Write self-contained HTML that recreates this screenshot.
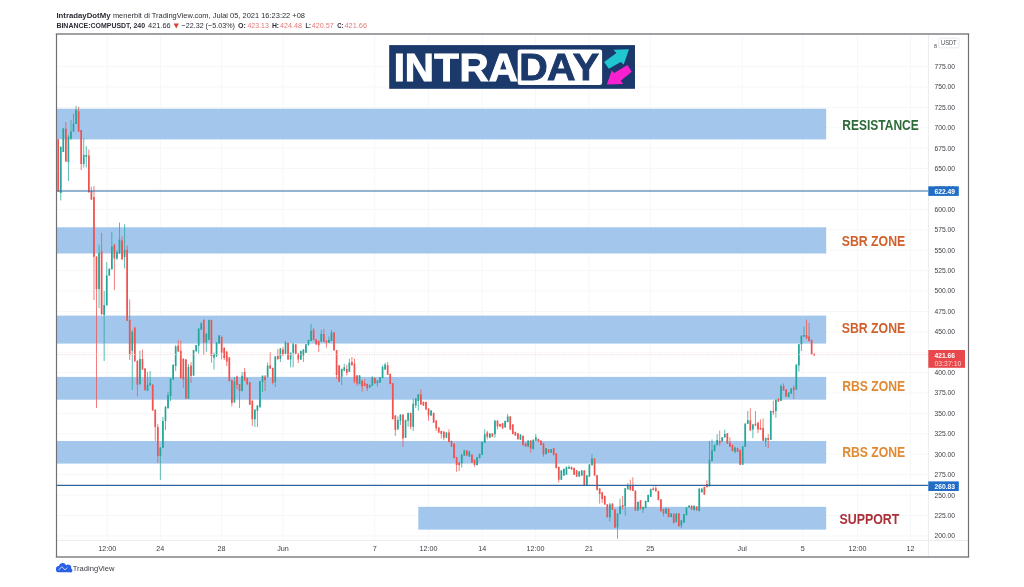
<!DOCTYPE html>
<html lang="ms"><head><meta charset="utf-8"><title>COMPUSDT - IntradayDotMy</title>
<style>html,body{margin:0;padding:0;background:#fff}body{width:1024px;height:587px;overflow:hidden}svg{display:block}text{font-family:"Liberation Sans",sans-serif}</style></head><body>
<svg width="1024" height="587" viewBox="0 0 1024 587">
<defs><filter id="cb" x="0" y="0" width="1024" height="587" filterUnits="userSpaceOnUse"><feGaussianBlur stdDeviation="0.45"/></filter></defs>
<rect width="1024" height="587" fill="#fff"/>
<g stroke="#f6f7f9" stroke-width="1">
<line x1="57" x2="928" y1="535.9" y2="535.9"/>
<line x1="57" x2="928" y1="515.5" y2="515.5"/>
<line x1="57" x2="928" y1="495.1" y2="495.1"/>
<line x1="57" x2="928" y1="474.6" y2="474.6"/>
<line x1="57" x2="928" y1="454.2" y2="454.2"/>
<line x1="57" x2="928" y1="433.8" y2="433.8"/>
<line x1="57" x2="928" y1="413.4" y2="413.4"/>
<line x1="57" x2="928" y1="393.0" y2="393.0"/>
<line x1="57" x2="928" y1="372.6" y2="372.6"/>
<line x1="57" x2="928" y1="352.2" y2="352.2"/>
<line x1="57" x2="928" y1="331.8" y2="331.8"/>
<line x1="57" x2="928" y1="311.4" y2="311.4"/>
<line x1="57" x2="928" y1="291.0" y2="291.0"/>
<line x1="57" x2="928" y1="270.6" y2="270.6"/>
<line x1="57" x2="928" y1="250.2" y2="250.2"/>
<line x1="57" x2="928" y1="229.8" y2="229.8"/>
<line x1="57" x2="928" y1="209.4" y2="209.4"/>
<line x1="57" x2="928" y1="189.0" y2="189.0"/>
<line x1="57" x2="928" y1="168.6" y2="168.6"/>
<line x1="57" x2="928" y1="148.2" y2="148.2"/>
<line x1="57" x2="928" y1="127.8" y2="127.8"/>
<line x1="57" x2="928" y1="107.4" y2="107.4"/>
<line x1="57" x2="928" y1="87.0" y2="87.0"/>
<line x1="57" x2="928" y1="66.6" y2="66.6"/>
<line x1="107.2" x2="107.2" y1="34" y2="540"/>
<line x1="160.3" x2="160.3" y1="34" y2="540"/>
<line x1="221.6" x2="221.6" y1="34" y2="540"/>
<line x1="283.0" x2="283.0" y1="34" y2="540"/>
<line x1="374.7" x2="374.7" y1="34" y2="540"/>
<line x1="428.4" x2="428.4" y1="34" y2="540"/>
<line x1="482.2" x2="482.2" y1="34" y2="540"/>
<line x1="535.6" x2="535.6" y1="34" y2="540"/>
<line x1="589.0" x2="589.0" y1="34" y2="540"/>
<line x1="650.3" x2="650.3" y1="34" y2="540"/>
<line x1="742.2" x2="742.2" y1="34" y2="540"/>
<line x1="802.8" x2="802.8" y1="34" y2="540"/>
<line x1="857.5" x2="857.5" y1="34" y2="540"/>
<line x1="910.5" x2="910.5" y1="34" y2="540"/>
</g>
<rect x="57" y="108.7" width="769.2" height="30.7" fill="#a3c7ec"/>
<rect x="57" y="227.3" width="769.2" height="26.2" fill="#a3c7ec"/>
<rect x="57" y="315.6" width="769.2" height="28.0" fill="#a3c7ec"/>
<rect x="57" y="376.9" width="769.2" height="22.8" fill="#a3c7ec"/>
<rect x="57" y="441.0" width="769.2" height="22.6" fill="#a3c7ec"/>
<rect x="418.3" y="506.8" width="407.9" height="22.8" fill="#a3c7ec"/>
<g filter="url(#cb)"><path d="M60.75 146.0V200.5M63.31 128.0V152.0M68.42 135.0V181.0M70.97 119.8V140.0M73.52 113.7V132.0M76.08 105.8V124.0M83.74 138.5V167.5M86.29 146.0V167.5M99.06 244.7V308.0M104.17 291.0V361.0M106.73 262.0V306.0M109.28 268.0V276.0M111.83 232.0V270.0M116.94 250.0V260.0M119.50 222.6V254.0M124.60 224.3V268.6M132.27 330.0V390.0M139.93 350.7V385.0M147.59 372.0V391.0M150.14 371.0V386.0M160.36 447.0V480.0M162.91 417.0V448.0M165.47 406.0V430.0M168.02 392.0V409.0M170.58 378.0V401.0M173.13 364.0V380.0M175.68 345.0V371.0M188.45 364.0V399.0M193.56 350.0V376.0M196.12 345.0V352.0M198.67 328.0V353.5M201.22 322.0V330.0M206.33 333.0V351.7M208.89 319.5V340.0M213.99 352.6V369.6M216.55 342.0V357.0M219.10 335.0V344.0M234.43 377.0V403.0M242.09 371.9V391.5M254.86 409.0V427.0M257.41 405.0V427.0M259.97 381.0V407.5M262.52 375.5V392.0M267.63 362.5V377.5M275.29 356.0V387.0M280.40 348.0V362.0M285.51 341.0V354.0M290.61 352.5V367.3M293.17 342.6V367.3M300.83 350.5V360.0M303.38 349.0V362.0M305.94 344.0V353.0M308.49 339.5V345.5M311.05 323.9V341.0M321.26 329.8V342.0M328.92 336.6V343.0M331.48 329.8V341.0M341.69 368.5V385.0M344.25 363.9V371.0M349.36 358.7V372.0M359.57 375.0V384.5M369.79 384.5V388.0M372.34 376.4V386.0M377.45 380.0V386.6M380.00 377.0V383.0M382.56 365.3V378.5M385.11 362.8V370.0M397.88 416.4V430.0M400.44 414.0V425.0M405.54 419.5V438.0M408.10 412.5V426.7M413.21 398.6V431.0M415.76 398.0V408.0M418.31 394.0V410.5M431.08 410.0V416.0M446.41 432.0V438.0M461.73 454.0V467.5M464.29 449.6V456.0M469.39 451.0V457.0M477.06 457.0V465.5M479.61 453.5V458.5M482.16 441.5V455.0M484.72 429.2V443.0M489.83 433.0V438.0M494.93 420.0V437.7M505.15 420.5V428.0M507.70 414.0V422.5M520.47 434.0V440.0M528.14 440.0V447.0M533.24 439.5V449.5M535.80 433.9V441.0M546.01 448.0V454.5M551.12 449.0V453.0M561.34 470.0V480.0M563.89 468.5V476.0M566.45 466.5V475.0M569.00 465.4V469.0M579.22 471.0V477.0M581.77 470.0V476.0M586.88 475.0V486.0M589.43 464.0V477.0M591.99 454.3V465.5M609.86 502.8V521.6M617.53 513.0V538.6M620.08 498.6V514.5M625.19 488.0V515.6M627.74 483.2V489.5M637.96 501.5V511.0M643.07 506.5V513.0M645.62 500.5V508.5M648.17 494.5V502.5M650.73 488.5V497.0M666.05 508.0V514.0M671.16 513.0V517.5M676.27 513.0V522.5M681.38 520.0V528.0M683.93 514.0V523.0M686.48 507.0V515.5M689.04 505.0V508.0M694.15 505.3V510.5M699.25 488.0V511.5M701.81 488.0V492.5M709.47 441.0V486.5M712.02 439.4V461.5M714.58 444.5V451.5M717.13 434.0V445.5M722.24 437.0V442.0M724.79 429.6V438.0M735.01 446.7V453.5M742.67 446.0V465.0M745.23 423.0V447.0M747.78 410.9V424.0M752.89 424.0V438.0M765.66 437.5V446.7M770.77 410.5V440.0M775.87 399.5V417.7M780.98 384.3V401.0M788.64 392.0V397.5M791.20 388.0V394.0M796.31 364.0V390.0M798.86 344.0V371.6M801.41 335.5V351.0M803.97 326.4V337.0" stroke="#26a69a" stroke-width="0.75" fill="none"/><path d="M59.90 147.0h1.7V193.0h-1.7zM62.46 128.5h1.7V152.0h-1.7zM67.57 137.0h1.7V162.0h-1.7zM70.12 131.4h1.7V138.5h-1.7zM72.67 123.6h1.7V131.4h-1.7zM75.23 109.9h1.7V123.9h-1.7zM82.89 154.7h1.7V164.0h-1.7zM85.44 155.0h1.7V157.0h-1.7zM98.21 253.0h1.7V289.0h-1.7zM103.32 305.0h1.7V315.0h-1.7zM105.88 275.5h1.7V305.0h-1.7zM108.43 269.0h1.7V275.5h-1.7zM110.98 246.4h1.7V269.0h-1.7zM116.09 252.0h1.7V258.4h-1.7zM118.65 239.6h1.7V253.3h-1.7zM123.75 250.0h1.7V257.0h-1.7zM131.42 332.0h1.7V350.7h-1.7zM139.08 359.0h1.7V384.0h-1.7zM146.74 384.7h1.7V390.7h-1.7zM149.29 383.0h1.7V385.0h-1.7zM159.51 447.7h1.7V456.0h-1.7zM162.06 421.0h1.7V447.7h-1.7zM164.62 407.0h1.7V421.0h-1.7zM167.17 395.0h1.7V408.0h-1.7zM169.73 378.8h1.7V396.0h-1.7zM172.28 365.0h1.7V379.6h-1.7zM174.83 346.4h1.7V366.0h-1.7zM187.60 367.0h1.7V398.6h-1.7zM192.71 350.0h1.7V375.6h-1.7zM195.27 345.0h1.7V351.0h-1.7zM197.82 328.7h1.7V345.8h-1.7zM200.37 323.6h1.7V329.6h-1.7zM205.48 333.8h1.7V342.4h-1.7zM208.04 320.0h1.7V339.8h-1.7zM213.14 354.3h1.7V357.7h-1.7zM215.70 342.4h1.7V356.0h-1.7zM218.25 335.5h1.7V343.2h-1.7zM233.58 381.6h1.7V402.2h-1.7zM241.24 375.7h1.7V391.0h-1.7zM254.01 409.8h1.7V419.2h-1.7zM256.56 405.6h1.7V410.7h-1.7zM259.12 381.2h1.7V407.2h-1.7zM261.67 375.7h1.7V382.0h-1.7zM266.78 365.5h1.7V377.0h-1.7zM274.44 356.5h1.7V382.0h-1.7zM279.55 348.5h1.7V358.7h-1.7zM284.66 342.6h1.7V353.7h-1.7zM289.76 352.8h1.7V359.6h-1.7zM292.32 344.3h1.7V352.8h-1.7zM299.98 351.0h1.7V359.6h-1.7zM302.53 349.4h1.7V355.4h-1.7zM305.09 344.3h1.7V352.8h-1.7zM307.64 340.0h1.7V345.1h-1.7zM310.20 330.7h1.7V340.9h-1.7zM320.41 334.0h1.7V341.7h-1.7zM328.07 340.0h1.7V342.6h-1.7zM330.63 332.4h1.7V340.9h-1.7zM340.84 369.0h1.7V376.7h-1.7zM343.40 367.3h1.7V370.7h-1.7zM348.51 362.8h1.7V371.8h-1.7zM358.72 375.5h1.7V384.0h-1.7zM368.94 385.0h1.7V387.5h-1.7zM371.49 377.3h1.7V385.8h-1.7zM376.60 380.7h1.7V383.2h-1.7zM379.15 377.3h1.7V382.4h-1.7zM381.71 367.0h1.7V378.0h-1.7zM384.26 364.5h1.7V369.6h-1.7zM397.03 419.9h1.7V429.2h-1.7zM399.59 414.7h1.7V420.7h-1.7zM404.69 419.9h1.7V437.7h-1.7zM407.25 413.0h1.7V420.7h-1.7zM412.36 403.7h1.7V426.7h-1.7zM414.91 398.6h1.7V405.4h-1.7zM417.46 394.3h1.7V401.0h-1.7zM430.23 410.4h1.7V415.5h-1.7zM445.56 432.6h1.7V437.7h-1.7zM460.88 454.7h1.7V463.3h-1.7zM463.44 450.5h1.7V455.6h-1.7zM468.54 451.3h1.7V456.4h-1.7zM476.21 457.3h1.7V465.0h-1.7zM478.76 453.9h1.7V458.0h-1.7zM481.31 442.0h1.7V454.7h-1.7zM483.87 434.3h1.7V442.8h-1.7zM488.98 433.4h1.7V437.7h-1.7zM494.08 420.7h1.7V434.3h-1.7zM504.30 421.0h1.7V427.3h-1.7zM506.85 416.6h1.7V422.0h-1.7zM519.62 434.7h1.7V439.8h-1.7zM527.29 440.7h1.7V446.6h-1.7zM532.39 439.8h1.7V449.2h-1.7zM534.95 437.3h1.7V440.7h-1.7zM545.16 448.3h1.7V454.3h-1.7zM550.27 449.2h1.7V452.6h-1.7zM560.49 470.5h1.7V479.8h-1.7zM563.04 468.8h1.7V475.6h-1.7zM565.60 467.0h1.7V474.7h-1.7zM568.15 467.0h1.7V468.8h-1.7zM578.37 471.5h1.7V476.4h-1.7zM580.92 470.4h1.7V475.6h-1.7zM586.03 475.6h1.7V485.8h-1.7zM588.58 464.5h1.7V476.4h-1.7zM591.14 458.5h1.7V465.3h-1.7zM609.01 504.5h1.7V517.3h-1.7zM616.68 513.9h1.7V527.5h-1.7zM619.23 506.2h1.7V513.9h-1.7zM624.34 488.3h1.7V506.2h-1.7zM626.89 485.0h1.7V489.2h-1.7zM637.11 502.0h1.7V510.5h-1.7zM642.22 507.0h1.7V509.6h-1.7zM644.77 501.0h1.7V508.0h-1.7zM647.32 495.0h1.7V502.0h-1.7zM649.88 489.2h1.7V496.8h-1.7zM665.20 508.5h1.7V513.5h-1.7zM670.31 513.5h1.7V517.0h-1.7zM675.42 513.5h1.7V522.0h-1.7zM680.53 520.3h1.7V525.4h-1.7zM683.08 514.3h1.7V522.8h-1.7zM685.63 507.5h1.7V515.2h-1.7zM688.19 505.8h1.7V507.5h-1.7zM693.30 505.8h1.7V510.0h-1.7zM698.40 488.8h1.7V511.0h-1.7zM700.96 488.8h1.7V492.2h-1.7zM708.62 459.8h1.7V486.2h-1.7zM711.17 450.2h1.7V461.0h-1.7zM713.73 445.0h1.7V451.0h-1.7zM716.28 440.0h1.7V445.0h-1.7zM721.39 437.3h1.7V441.5h-1.7zM723.94 434.0h1.7V437.3h-1.7zM734.16 447.5h1.7V451.8h-1.7zM741.82 446.5h1.7V464.7h-1.7zM744.38 423.7h1.7V446.8h-1.7zM746.93 420.3h1.7V423.7h-1.7zM752.04 424.5h1.7V429.6h-1.7zM764.81 438.0h1.7V441.5h-1.7zM769.92 410.9h1.7V439.8h-1.7zM775.02 399.8h1.7V410.9h-1.7zM780.13 386.1h1.7V400.7h-1.7zM787.79 392.5h1.7V397.0h-1.7zM790.35 388.6h1.7V393.5h-1.7zM795.46 364.7h1.7V389.6h-1.7zM798.01 344.3h1.7V365.6h-1.7zM800.56 335.8h1.7V344.3h-1.7zM803.12 335.0h1.7V336.6h-1.7z" fill="#26a69a"/><path d="M58.20 139.0V192.0M65.86 122.0V162.0M78.63 106.8V132.0M81.19 130.0V170.0M88.85 149.6V193.0M91.40 186.8V200.0M93.96 186.0V300.0M96.51 256.0V408.0M101.62 232.8V315.0M114.39 244.0V290.0M122.05 236.2V260.0M127.16 245.6V321.0M129.71 299.4V360.0M134.82 326.6V362.0M137.37 360.0V396.7M142.48 349.8V370.0M145.04 368.0V391.0M152.70 384.0V411.0M155.25 409.0V441.0M157.81 423.8V463.0M178.24 340.0V352.0M180.79 340.4V379.0M183.35 358.0V388.0M185.90 359.0V399.0M191.01 362.0V383.0M203.78 319.0V355.0M211.44 319.5V362.8M221.66 335.5V359.4M224.21 347.0V360.0M226.76 351.0V366.0M229.32 357.0V381.5M231.87 379.5V406.4M236.98 375.6V389.4M239.53 384.0V408.0M244.64 368.0V381.0M247.20 377.5V385.0M249.75 382.0V405.0M252.30 400.0V426.0M265.07 375.0V391.0M270.18 352.3V369.0M272.74 367.5V384.5M277.84 349.0V360.0M282.95 347.0V356.0M288.06 342.5V360.0M295.72 344.0V354.0M298.28 353.0V363.0M313.60 328.0V340.5M316.15 339.0V345.0M318.71 340.5V352.0M323.82 329.0V342.0M326.37 340.0V347.7M334.03 332.0V351.0M336.59 350.0V379.0M339.14 365.0V382.0M346.80 364.7V375.5M351.91 357.0V366.0M354.46 358.6V383.5M357.02 375.0V385.8M362.13 380.0V391.7M364.68 379.0V386.0M367.23 383.5V391.0M374.90 377.5V384.0M387.67 362.0V375.0M390.22 373.5V384.5M392.77 383.0V419.5M395.33 415.0V436.0M402.99 414.0V447.0M410.65 412.5V429.2M420.87 389.2V405.0M423.42 401.5V406.0M425.98 401.5V410.0M428.53 408.0V420.7M433.64 412.5V423.0M436.19 420.0V431.0M438.75 427.0V433.0M441.30 430.9V438.6M443.85 431.0V440.3M448.96 429.2V442.5M451.52 440.5V447.0M454.07 443.0V458.5M456.62 457.0V471.8M459.18 462.0V471.0M466.84 450.0V456.0M471.95 454.0V463.0M474.50 459.5V466.7M487.27 430.9V439.4M492.38 433.0V437.0M497.49 420.0V429.2M500.04 423.5V427.0M502.60 423.0V429.0M510.26 416.0V430.0M512.81 424.0V434.5M515.37 431.5V436.0M517.92 433.0V439.5M523.03 435.5V445.5M525.58 443.0V447.0M530.69 440.0V452.6M538.35 438.5V442.0M540.91 440.0V445.5M543.46 443.0V456.8M548.57 449.0V453.0M553.68 448.0V455.5M556.23 453.0V468.5M558.78 466.5V482.4M571.55 466.5V470.0M574.11 467.5V475.0M576.66 470.0V477.0M584.32 470.0V486.0M594.54 458.0V476.0M597.09 475.0V490.5M599.65 488.0V503.7M602.20 492.0V502.8M604.76 495.5V505.0M607.31 504.0V517.5M612.42 503.0V510.0M614.97 509.0V528.0M622.63 496.0V509.6M630.30 479.8V490.5M632.85 477.3V491.0M635.40 490.0V511.0M640.51 500.0V509.5M653.28 486.6V490.5M655.84 485.8V491.5M658.39 490.5V500.5M660.94 499.0V511.5M663.50 509.0V516.4M668.61 508.5V517.5M673.71 513.5V523.5M678.82 513.0V526.8M691.59 505.3V510.0M696.70 506.0V511.0M704.36 486.5V495.0M706.92 480.3V487.5M719.69 430.5V445.8M727.35 433.0V444.0M729.90 437.3V447.0M732.46 444.5V451.5M737.56 447.5V452.0M740.12 449.5V465.0M750.33 408.3V431.0M755.44 411.0V426.0M758.00 422.0V433.0M760.55 419.4V430.0M763.10 418.5V441.0M768.21 434.0V448.4M773.32 400.7V415.0M778.43 398.0V402.0M783.54 383.5V391.0M786.09 389.0V397.0M793.75 385.3V399.0M806.52 319.6V339.0M809.08 323.0V341.5M811.63 339.5V355.0M814.18 353.5V355.6" stroke="#ef5350" stroke-width="0.75" fill="none"/><path d="M57.35 139.4h1.7V191.3h-1.7zM65.01 128.7h1.7V161.5h-1.7zM77.78 111.6h1.7V131.4h-1.7zM80.34 130.0h1.7V164.0h-1.7zM88.00 155.6h1.7V192.0h-1.7zM90.55 191.0h1.7V199.6h-1.7zM93.11 197.0h1.7V256.7h-1.7zM95.66 256.7h1.7V289.0h-1.7zM100.77 251.5h1.7V314.0h-1.7zM113.54 244.7h1.7V258.4h-1.7zM121.20 240.5h1.7V259.2h-1.7zM126.31 249.8h1.7V320.7h-1.7zM128.86 320.0h1.7V355.0h-1.7zM133.97 327.7h1.7V361.0h-1.7zM136.52 361.0h1.7V384.7h-1.7zM141.63 359.0h1.7V369.4h-1.7zM144.19 368.6h1.7V390.0h-1.7zM151.85 384.7h1.7V410.3h-1.7zM154.40 410.0h1.7V427.0h-1.7zM156.96 427.0h1.7V456.0h-1.7zM177.39 345.6h1.7V351.5h-1.7zM179.94 350.7h1.7V378.0h-1.7zM182.50 359.0h1.7V379.6h-1.7zM185.05 359.4h1.7V398.6h-1.7zM190.16 365.4h1.7V376.0h-1.7zM202.93 320.0h1.7V342.4h-1.7zM210.59 320.0h1.7V356.0h-1.7zM220.81 337.0h1.7V352.6h-1.7zM223.36 348.0h1.7V358.0h-1.7zM225.91 351.7h1.7V361.5h-1.7zM228.47 357.4h1.7V381.0h-1.7zM231.02 380.0h1.7V403.0h-1.7zM236.13 376.6h1.7V385.0h-1.7zM238.68 384.3h1.7V391.0h-1.7zM243.79 372.0h1.7V380.5h-1.7zM246.35 378.3h1.7V384.3h-1.7zM248.90 382.5h1.7V404.7h-1.7zM251.45 401.0h1.7V419.2h-1.7zM264.22 376.6h1.7V380.0h-1.7zM269.33 365.5h1.7V368.5h-1.7zM271.89 368.0h1.7V382.8h-1.7zM276.99 356.0h1.7V359.0h-1.7zM282.10 349.4h1.7V354.5h-1.7zM287.21 343.0h1.7V359.6h-1.7zM294.87 344.3h1.7V353.7h-1.7zM297.43 353.7h1.7V359.6h-1.7zM312.75 329.8h1.7V340.0h-1.7zM315.30 339.2h1.7V344.3h-1.7zM317.86 341.0h1.7V345.2h-1.7zM322.97 334.0h1.7V341.7h-1.7zM325.52 340.9h1.7V342.6h-1.7zM333.18 332.4h1.7V350.3h-1.7zM335.74 350.3h1.7V375.0h-1.7zM338.29 365.6h1.7V381.8h-1.7zM345.95 369.0h1.7V372.8h-1.7zM351.06 362.0h1.7V365.0h-1.7zM353.61 363.7h1.7V381.5h-1.7zM356.17 375.6h1.7V383.5h-1.7zM361.28 380.7h1.7V386.6h-1.7zM363.83 383.2h1.7V385.8h-1.7zM366.38 384.0h1.7V388.3h-1.7zM374.05 378.0h1.7V383.2h-1.7zM386.82 365.3h1.7V374.7h-1.7zM389.37 373.9h1.7V384.0h-1.7zM391.92 383.2h1.7V419.0h-1.7zM394.48 415.6h1.7V430.0h-1.7zM402.14 414.7h1.7V438.6h-1.7zM409.80 413.0h1.7V426.7h-1.7zM420.02 394.3h1.7V404.5h-1.7zM422.57 402.0h1.7V405.4h-1.7zM425.13 402.0h1.7V409.6h-1.7zM427.68 408.7h1.7V415.5h-1.7zM432.79 413.0h1.7V422.4h-1.7zM435.34 420.7h1.7V428.3h-1.7zM437.90 427.5h1.7V432.6h-1.7zM440.45 431.0h1.7V434.0h-1.7zM443.00 431.7h1.7V437.7h-1.7zM448.11 432.6h1.7V442.0h-1.7zM450.67 441.0h1.7V446.2h-1.7zM453.22 443.7h1.7V458.0h-1.7zM455.77 457.3h1.7V465.0h-1.7zM458.33 462.4h1.7V465.0h-1.7zM465.99 450.5h1.7V455.6h-1.7zM471.10 454.7h1.7V462.4h-1.7zM473.65 459.8h1.7V465.0h-1.7zM486.42 432.6h1.7V436.8h-1.7zM491.53 433.4h1.7V436.8h-1.7zM496.64 420.7h1.7V426.6h-1.7zM499.19 424.0h1.7V426.6h-1.7zM501.75 423.2h1.7V428.3h-1.7zM509.41 416.6h1.7V429.6h-1.7zM511.96 424.5h1.7V434.0h-1.7zM514.52 432.0h1.7V435.5h-1.7zM517.07 433.2h1.7V439.2h-1.7zM522.18 435.8h1.7V445.2h-1.7zM524.73 443.2h1.7V446.6h-1.7zM529.84 440.7h1.7V448.3h-1.7zM537.50 439.0h1.7V441.5h-1.7zM540.06 440.7h1.7V445.0h-1.7zM542.61 443.2h1.7V454.3h-1.7zM547.72 449.2h1.7V452.6h-1.7zM552.83 448.3h1.7V455.1h-1.7zM555.38 453.4h1.7V468.0h-1.7zM557.93 467.0h1.7V479.8h-1.7zM570.70 467.0h1.7V469.6h-1.7zM573.26 468.0h1.7V474.7h-1.7zM575.81 470.5h1.7V476.4h-1.7zM583.47 470.4h1.7V485.6h-1.7zM593.69 458.5h1.7V475.6h-1.7zM596.24 475.2h1.7V490.0h-1.7zM598.80 488.5h1.7V494.0h-1.7zM601.35 492.3h1.7V499.0h-1.7zM603.91 496.0h1.7V504.5h-1.7zM606.46 504.5h1.7V517.3h-1.7zM611.57 503.7h1.7V509.6h-1.7zM614.12 509.6h1.7V527.5h-1.7zM621.78 505.0h1.7V507.0h-1.7zM629.45 485.0h1.7V490.0h-1.7zM632.00 485.0h1.7V490.9h-1.7zM634.55 490.9h1.7V510.5h-1.7zM639.66 500.3h1.7V508.8h-1.7zM652.43 488.3h1.7V490.0h-1.7zM654.99 488.3h1.7V491.3h-1.7zM657.54 491.0h1.7V500.0h-1.7zM660.09 499.6h1.7V511.2h-1.7zM662.65 509.2h1.7V513.5h-1.7zM667.76 508.8h1.7V517.0h-1.7zM672.86 513.8h1.7V523.0h-1.7zM677.97 513.5h1.7V526.3h-1.7zM690.74 505.8h1.7V509.2h-1.7zM695.85 506.7h1.7V510.0h-1.7zM703.51 487.0h1.7V494.7h-1.7zM706.07 484.0h1.7V487.0h-1.7zM718.84 440.7h1.7V443.3h-1.7zM726.50 433.2h1.7V443.4h-1.7zM729.05 442.5h1.7V446.8h-1.7zM731.61 445.0h1.7V451.0h-1.7zM736.71 448.0h1.7V451.8h-1.7zM739.27 450.0h1.7V464.7h-1.7zM749.48 420.3h1.7V430.5h-1.7zM754.59 423.7h1.7V425.4h-1.7zM757.15 422.8h1.7V429.6h-1.7zM759.70 428.0h1.7V429.6h-1.7zM762.25 428.0h1.7V440.7h-1.7zM767.36 438.0h1.7V440.0h-1.7zM772.47 410.9h1.7V412.6h-1.7zM777.58 399.0h1.7V401.5h-1.7zM782.69 386.1h1.7V390.4h-1.7zM785.24 389.5h1.7V396.4h-1.7zM792.90 387.8h1.7V390.3h-1.7zM805.67 335.0h1.7V338.3h-1.7zM808.23 336.6h1.7V340.9h-1.7zM810.78 340.0h1.7V354.5h-1.7zM813.33 353.7h1.7V355.4h-1.7z" fill="#ef5350"/></g>
<line x1="57" x2="929" y1="191" y2="191" stroke="#2d66a0" stroke-width="1.1"/>
<line x1="57" x2="929" y1="485.4" y2="485.4" stroke="#2d66a0" stroke-width="1.1"/>
<line x1="57" x2="929" y1="354.6" y2="354.6" stroke="#f0d2d2" stroke-width="0.9" stroke-dasharray="1.2 1.2"/>
<line x1="928.4" x2="928.4" y1="34" y2="557" stroke="#e9ebee" stroke-width="1"/>
<line x1="57" x2="968" y1="540.4" y2="540.4" stroke="#e9ebee" stroke-width="1"/>
<g font-size="7.2" fill="#3a3d44">
<text x="934.4" y="538.3" textLength="20.6" lengthAdjust="spacingAndGlyphs">200.00</text>
<text x="934.4" y="517.9" textLength="20.6" lengthAdjust="spacingAndGlyphs">225.00</text>
<text x="934.4" y="497.5" textLength="20.6" lengthAdjust="spacingAndGlyphs">250.00</text>
<text x="934.4" y="477.0" textLength="20.6" lengthAdjust="spacingAndGlyphs">275.00</text>
<text x="934.4" y="456.6" textLength="20.6" lengthAdjust="spacingAndGlyphs">300.00</text>
<text x="934.4" y="436.2" textLength="20.6" lengthAdjust="spacingAndGlyphs">325.00</text>
<text x="934.4" y="415.8" textLength="20.6" lengthAdjust="spacingAndGlyphs">350.00</text>
<text x="934.4" y="395.4" textLength="20.6" lengthAdjust="spacingAndGlyphs">375.00</text>
<text x="934.4" y="375.0" textLength="20.6" lengthAdjust="spacingAndGlyphs">400.00</text>
<text x="934.4" y="334.2" textLength="20.6" lengthAdjust="spacingAndGlyphs">450.00</text>
<text x="934.4" y="313.8" textLength="20.6" lengthAdjust="spacingAndGlyphs">475.00</text>
<text x="934.4" y="293.4" textLength="20.6" lengthAdjust="spacingAndGlyphs">500.00</text>
<text x="934.4" y="273.0" textLength="20.6" lengthAdjust="spacingAndGlyphs">525.00</text>
<text x="934.4" y="252.6" textLength="20.6" lengthAdjust="spacingAndGlyphs">550.00</text>
<text x="934.4" y="232.2" textLength="20.6" lengthAdjust="spacingAndGlyphs">575.00</text>
<text x="934.4" y="211.8" textLength="20.6" lengthAdjust="spacingAndGlyphs">600.00</text>
<text x="934.4" y="191.4" textLength="20.6" lengthAdjust="spacingAndGlyphs">625.00</text>
<text x="934.4" y="171.0" textLength="20.6" lengthAdjust="spacingAndGlyphs">650.00</text>
<text x="934.4" y="150.6" textLength="20.6" lengthAdjust="spacingAndGlyphs">675.00</text>
<text x="934.4" y="130.2" textLength="20.6" lengthAdjust="spacingAndGlyphs">700.00</text>
<text x="934.4" y="109.8" textLength="20.6" lengthAdjust="spacingAndGlyphs">725.00</text>
<text x="934.4" y="89.4" textLength="20.6" lengthAdjust="spacingAndGlyphs">750.00</text>
<text x="934.4" y="69.0" textLength="20.6" lengthAdjust="spacingAndGlyphs">775.00</text>
</g>
<text x="934.4" y="354.6" font-size="7.2" fill="#3a3d44" textLength="20.6" lengthAdjust="spacingAndGlyphs">425.00</text>
<rect x="928.3" y="186.3" width="30.5" height="9.6" fill="#1f6dc6"/>
<text x="934.4" y="193.7" font-size="7.2" font-weight="bold" fill="#fff" textLength="20.6" lengthAdjust="spacingAndGlyphs">622.49</text>
<rect x="928.3" y="481.4" width="30.5" height="9.6" fill="#1f6dc6"/>
<text x="934.4" y="488.8" font-size="7.2" font-weight="bold" fill="#fff" textLength="20.6" lengthAdjust="spacingAndGlyphs">260.83</text>
<rect x="928.3" y="350" width="36.7" height="17.8" fill="#e8474b"/>
<text x="934.4" y="357.6" font-size="7.2" font-weight="bold" fill="#fff" textLength="20.6" lengthAdjust="spacingAndGlyphs">421.66</text>
<text x="934.4" y="365.6" font-size="7.2" fill="#fbd3d3" textLength="27" lengthAdjust="spacingAndGlyphs">03:37:10</text>
<rect x="938.6" y="38.2" width="20.4" height="9.6" rx="1.5" fill="#fff" stroke="#e2e4e8" stroke-width="0.8"/>
<text x="941" y="45.4" font-size="6.6" fill="#4a4d55" textLength="15.6" lengthAdjust="spacingAndGlyphs">USDT</text>
<text x="934" y="48.3" font-size="5.4" fill="#4a4d55">8</text>
<g font-size="7.2" fill="#3a3d44" text-anchor="middle">
<text x="107.2" y="551.2">12:00</text>
<text x="160.3" y="551.2">24</text>
<text x="221.6" y="551.2">28</text>
<text x="283.0" y="551.2">Jun</text>
<text x="374.7" y="551.2">7</text>
<text x="428.4" y="551.2">12:00</text>
<text x="482.2" y="551.2">14</text>
<text x="535.6" y="551.2">12:00</text>
<text x="589.0" y="551.2">21</text>
<text x="650.3" y="551.2">25</text>
<text x="742.2" y="551.2">Jul</text>
<text x="802.8" y="551.2">5</text>
<text x="857.5" y="551.2">12:00</text>
<text x="910.5" y="551.2">12</text>
</g>
<path d="M55.8 34H969.2M55.8 557H969.2" stroke="#808286" stroke-width="1.5" fill="none"/><path d="M56.5 34V557M968.5 34V557" stroke="#6f7175" stroke-width="1.2" fill="none"/>
<g font-size="8" fill="#2a2d33">
<text x="56.4" y="17.9" font-weight="bold" textLength="54.1" lengthAdjust="spacingAndGlyphs">IntradayDotMy</text>
<text x="112.9" y="17.9" textLength="192.1" lengthAdjust="spacingAndGlyphs">menerbit di TradingView.com, Julai 05, 2021 16:23:22 +08</text>
<text x="56.4" y="28.4" font-weight="bold" textLength="88.7" lengthAdjust="spacingAndGlyphs">BINANCE:COMPUSDT, 240</text>
<text x="148.1" y="28.4" textLength="22.6" lengthAdjust="spacingAndGlyphs">421.66</text>
<text x="181.5" y="28.4" textLength="53.4" lengthAdjust="spacingAndGlyphs">−22.32 (−5.03%)</text>
<text x="238" y="28.4" font-weight="bold" textLength="7.9" lengthAdjust="spacingAndGlyphs">O:</text>
<text x="271.9" y="28.4" font-weight="bold" textLength="7.2" lengthAdjust="spacingAndGlyphs">H:</text>
<text x="305.5" y="28.4" font-weight="bold" textLength="5.5" lengthAdjust="spacingAndGlyphs">L:</text>
<text x="337.3" y="28.4" font-weight="bold" textLength="6.3" lengthAdjust="spacingAndGlyphs">C:</text>
</g>
<g font-size="8" fill="#e47a76">
<text x="247.5" y="28.4" textLength="21.3" lengthAdjust="spacingAndGlyphs">423.13</text>
<text x="280" y="28.4" textLength="22" lengthAdjust="spacingAndGlyphs">424.48</text>
<text x="311.7" y="28.4" textLength="22.1" lengthAdjust="spacingAndGlyphs">420.57</text>
<text x="344.5" y="28.4" textLength="22.5" lengthAdjust="spacingAndGlyphs">421.66</text>
</g>
<path d="M173.6 23.4h5.3l-2.65 5z" fill="#d9413c"/>
<g font-size="14.2" font-weight="bold">
<text x="842.3" y="130.1" fill="#2e6b38" textLength="76.4" lengthAdjust="spacingAndGlyphs">RESISTANCE</text>
<text x="841.8" y="246.3" fill="#d0612c" textLength="63.4" lengthAdjust="spacingAndGlyphs">SBR ZONE</text>
<text x="841.8" y="333.2" fill="#d0612c" textLength="63.4" lengthAdjust="spacingAndGlyphs">SBR ZONE</text>
<text x="842.2" y="390.6" fill="#e08a33" textLength="63" lengthAdjust="spacingAndGlyphs">RBS ZONE</text>
<text x="842.2" y="457.2" fill="#e08a33" textLength="63" lengthAdjust="spacingAndGlyphs">RBS ZONE</text>
<text x="839.5" y="523.9" fill="#ab2f38" textLength="59.8" lengthAdjust="spacingAndGlyphs">SUPPORT</text>
</g>
<rect x="389.2" y="45.1" width="245.8" height="43.7" fill="#1b396b"/>
<rect x="517.7" y="49.6" width="84.4" height="35.4" rx="2.2" fill="#fff"/>
<text transform="scale(1.04 1)" x="378.67 389.11 417.66 441.94 469.88" y="81" font-size="38.8" font-weight="bold" fill="#fff" stroke="#fff" stroke-width="1">INTRA</text>
<text transform="scale(1.06 1)" x="489.94 516.03 540.33" y="80.2" font-size="37.2" font-weight="bold" fill="#1b396b" stroke="#1b396b" stroke-width="0.9">DAY</text>
<polygon points="629,49.2 613.4,49.8 616.4,53.1 604.1,62 608.8,68.8 620.7,62 623.7,64.6" fill="#20c7d0"/>
<polygon points="606.9,84.6 611.7,70.5 614.3,73.1 627.5,65 631.7,71.8 620.7,80.7 623.2,84.1" fill="#fb20cf"/>
<path d="M59.2 572.3a3.1 3.1 0 0 1 -0.4 -6.2a3.9 3.9 0 0 1 7.3 -0.9a3.2 3.2 0 0 1 5.1 3.4a1.9 1.9 0 0 1 -1.6 3.7z" fill="#2b5fe6"/>
<path d="M58.6 570.2l3.2-3.6 3.2 3.4 2.2-2.4" fill="none" stroke="#cfe0ff" stroke-width="0.9"/>
<text x="72.7" y="570.7" font-size="8" fill="#3a3c42" textLength="41.8" lengthAdjust="spacingAndGlyphs">TradingView</text>
</svg></body></html>
